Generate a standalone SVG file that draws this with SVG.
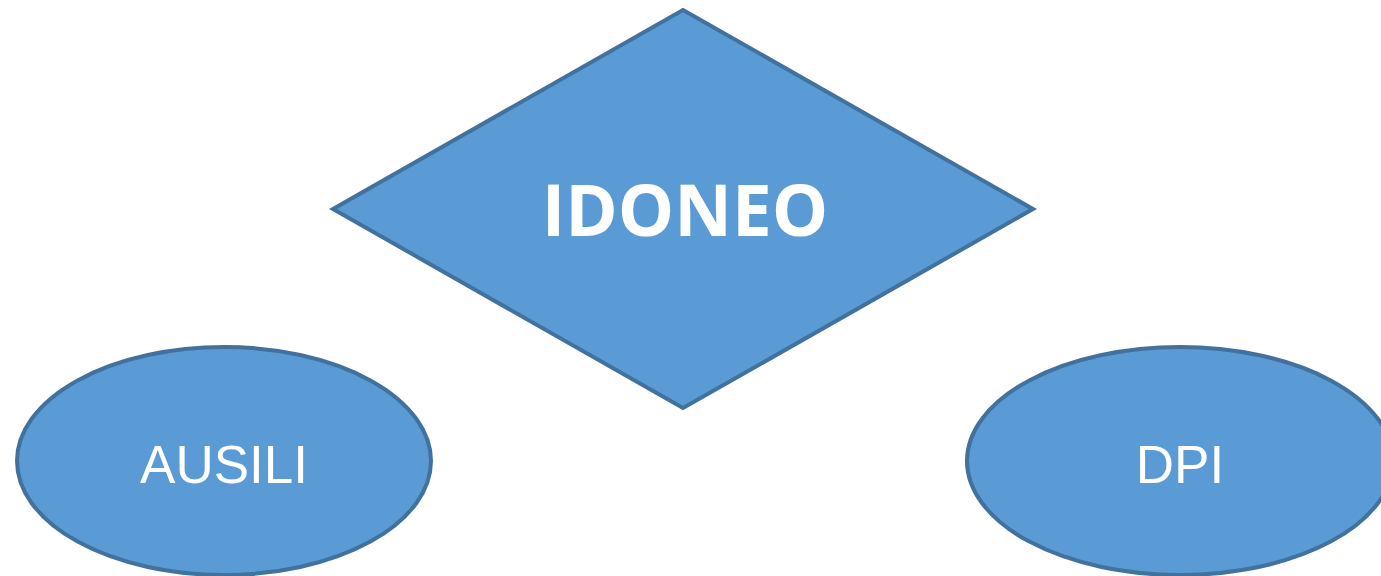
<svg xmlns="http://www.w3.org/2000/svg" width="1381" height="576" viewBox="0 0 1381 576">
<style>
.shape{fill:#5B9BD5;stroke:#41719C;stroke-width:4}
.lbl{fill:#FFFFFF;font-family:"Liberation Sans",Arial,sans-serif;font-size:53px;text-anchor:middle}
.big{fill:#FFFFFF;font-family:"Open Sans","Noto Sans",sans-serif;font-weight:bold;font-size:71px;text-anchor:middle}
</style>
<rect width="1381" height="576" fill="#FFFFFF"/>
<g id="connectors"></g>
<g id="idoneo">
<polygon class="shape" points="683,10 1033,209 683,408 333,209"/>
<text class="big" x="685" y="236">IDONEO</text>
</g>
<g id="ausili">
<ellipse class="shape" cx="224" cy="461" rx="207" ry="114"/>
<text class="lbl" x="224" y="483">AUSILI</text>
</g>
<g id="dpi">
<ellipse class="shape" cx="1180" cy="461" rx="213" ry="114"/>
<text class="lbl" x="1180" y="483">DPI</text>
</g>
</svg>
